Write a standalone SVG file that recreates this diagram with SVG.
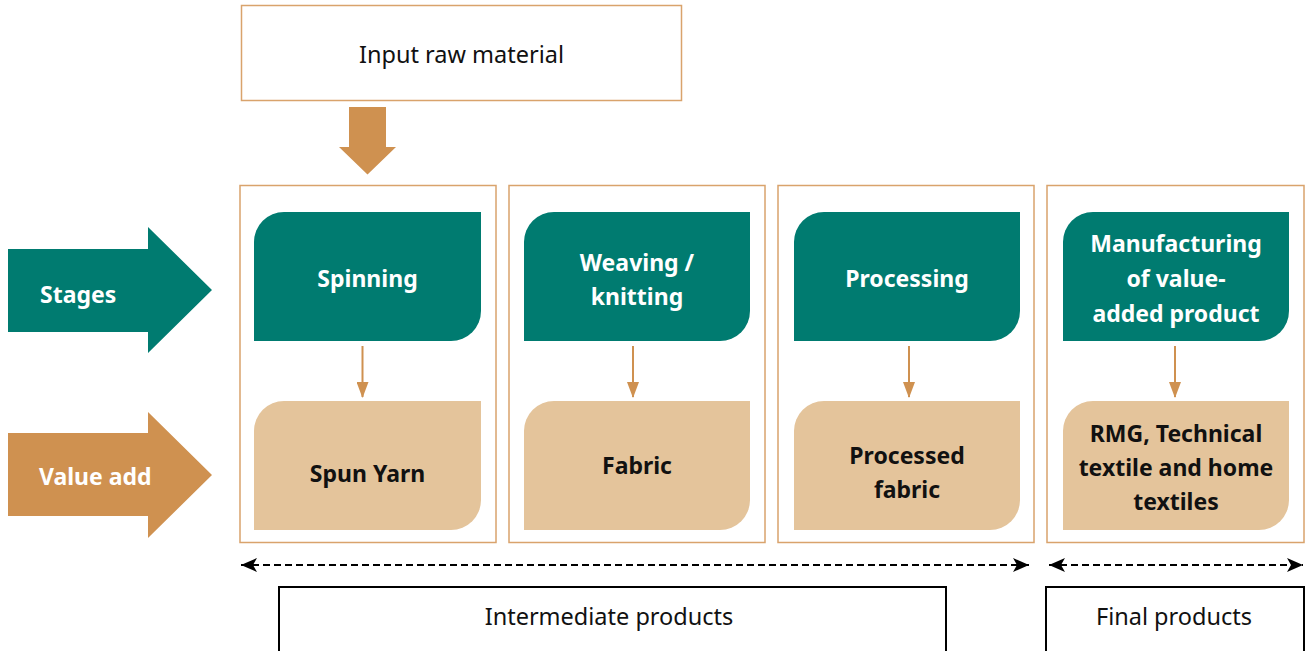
<svg xmlns="http://www.w3.org/2000/svg" width="1305" height="651" viewBox="0 0 1305 651">
<defs>
<style>
.box{fill:#fff;stroke:#D9A36C;stroke-width:1.5}
.stage{fill:#007B70}
.val{fill:#E4C49B}
.ot{font-family:"Noto Sans","Liberation Sans",sans-serif;font-size:23.5px;fill:#111;text-anchor:middle;dominant-baseline:central}
.wt{font-family:"Noto Sans","Liberation Sans",sans-serif;font-size:23px;font-weight:bold;fill:#fff;text-anchor:middle;dominant-baseline:central}
.bt{font-family:"Noto Sans","Liberation Sans",sans-serif;font-size:23px;font-weight:bold;fill:#111;text-anchor:middle;dominant-baseline:central}
.lt{font-family:"Noto Sans","Liberation Sans",sans-serif;font-size:23px;font-weight:bold;fill:#fff;dominant-baseline:central}
.small{stroke:#CF9150;stroke-width:2;fill:none;marker-end:url(#oh)}
.dash{stroke:#000;stroke-width:2;stroke-dasharray:7 4;fill:none;marker-start:url(#bhs);marker-end:url(#bh)}
.blk{fill:#fff;stroke:#000;stroke-width:2}
</style>
<marker id="oh" viewBox="0 0 16 12" refX="15" refY="6" markerWidth="16" markerHeight="12" markerUnits="userSpaceOnUse" orient="auto">
<path d="M0,0 L16,6 L0,12 Z" fill="#CF9150"/>
</marker>
<marker id="bh" viewBox="0 0 16 14" refX="16" refY="7" markerWidth="16" markerHeight="14" markerUnits="userSpaceOnUse" orient="auto">
<path d="M0,0 L16,7 L0,14 L4,7 Z" fill="#000"/>
</marker>
<marker id="bhs" viewBox="0 0 16 14" refX="16" refY="7" markerWidth="16" markerHeight="14" markerUnits="userSpaceOnUse" orient="auto-start-reverse">
<path d="M0,0 L16,7 L0,14 L4,7 Z" fill="#000"/>
</marker>
</defs>

<g id="input">
<rect class="box" x="241.5" y="5.5" width="440" height="95"/>
<text class="ot" x="461.5" y="54">Input raw material</text>
</g>
<g id="input-arrow">
<polygon points="349,107 386,107 386,147 396,147 367.5,174.5 339,147 349,147" fill="#CF9150"/>
</g>

<g id="legend-stages">
<polygon points="8,249 148,249 148,227 212,290 148,353 148,332 8,332" fill="#007B70"/>
<text class="lt" x="40" y="294">Stages</text>
</g>
<g id="legend-value">
<polygon points="8,433 148,433 148,412 212,475 148,538 148,516 8,516" fill="#CF9150"/>
<text class="lt" x="39" y="476">Value add</text>
</g>

<g id="col1">
<rect class="box" x="240" y="185.5" width="256" height="357"/>
</g>
<g id="col2">
<rect class="box" x="509" y="185.5" width="256" height="357"/>
</g>
<g id="col3">
<rect class="box" x="778" y="185.5" width="256" height="357"/>
</g>
<g id="col4">
<rect class="box" x="1047" y="185.5" width="257" height="357"/>
</g>

<g id="spinning">
<path class="stage" d="M284,212 H481 V311 A30 30 0 0 1 451,341 H254 V242 A30 30 0 0 1 284,212 Z"/>
<text class="wt" x="367.5" y="278">Spinning</text>
</g>
<g id="weaving">
<path class="stage" d="M554,212 H750 V311 A30 30 0 0 1 720,341 H524 V242 A30 30 0 0 1 554,212 Z"/>
<text class="wt" x="637" y="262">Weaving /</text>
<text class="wt" x="637" y="296">knitting</text>
</g>
<g id="processing">
<path class="stage" d="M824,212 H1020 V311 A30 30 0 0 1 990,341 H794 V242 A30 30 0 0 1 824,212 Z"/>
<text class="wt" x="907" y="278">Processing</text>
</g>
<g id="manufacturing">
<path class="stage" d="M1093,212 H1289 V311 A30 30 0 0 1 1259,341 H1063 V242 A30 30 0 0 1 1093,212 Z"/>
<text class="wt" x="1176" y="243">Manufacturing</text>
<text class="wt" x="1176" y="278">of value-</text>
<text class="wt" x="1176" y="313">added product</text>
</g>

<g id="spun-yarn">
<path class="val" d="M284,401 H481 V500 A30 30 0 0 1 451,530 H254 V431 A30 30 0 0 1 284,401 Z"/>
<text class="bt" x="367.5" y="473">Spun Yarn</text>
</g>
<g id="fabric">
<path class="val" d="M554,401 H750 V500 A30 30 0 0 1 720,530 H524 V431 A30 30 0 0 1 554,401 Z"/>
<text class="bt" x="637" y="465">Fabric</text>
</g>
<g id="processed-fabric">
<path class="val" d="M824,401 H1020 V500 A30 30 0 0 1 990,530 H794 V431 A30 30 0 0 1 824,401 Z"/>
<text class="bt" x="907" y="455">Processed</text>
<text class="bt" x="907" y="489">fabric</text>
</g>
<g id="rmg">
<path class="val" d="M1093,401 H1289 V500 A30 30 0 0 1 1259,530 H1063 V431 A30 30 0 0 1 1093,401 Z"/>
<text class="bt" x="1176" y="433">RMG, Technical</text>
<text class="bt" x="1176" y="467">textile and home</text>
<text class="bt" x="1176" y="501">textiles</text>
</g>

<g id="intermediate">
<rect class="blk" x="279" y="587" width="667" height="80"/>
<text class="ot" x="609" y="616">Intermediate products</text>
</g>
<g id="final">
<rect class="blk" x="1046" y="587" width="258" height="80"/>
<text class="ot" x="1174" y="616">Final products</text>
</g>

<g id="connectors">
<line class="small" x1="362.5" y1="346" x2="362.5" y2="397"/>
<line class="small" x1="633" y1="346" x2="633" y2="397"/>
<line class="small" x1="909" y1="346" x2="909" y2="397"/>
<line class="small" x1="1175" y1="346" x2="1175" y2="397"/>
<line class="dash" x1="241" y1="565" x2="1029" y2="565"/>
<line class="dash" x1="1049" y1="565" x2="1303" y2="565"/>
</g>
</svg>
